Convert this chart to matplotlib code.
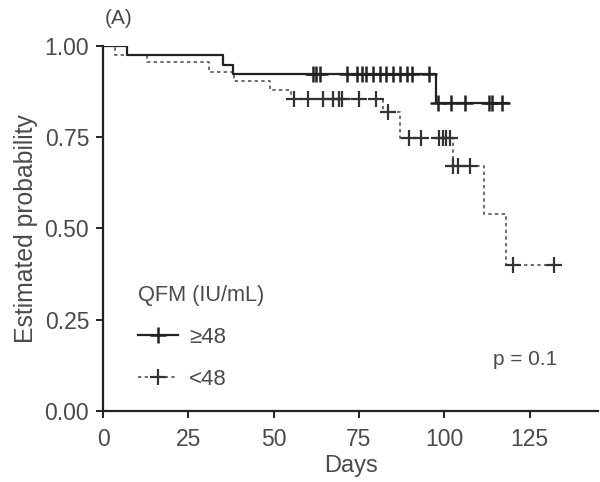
import numpy as np
import matplotlib
matplotlib.use("Agg")
import matplotlib.pyplot as plt
from matplotlib.lines import Line2D

plt.rcParams["font.family"] = ["Liberation Sans", "DejaVu Sans"]

# Kaplan-Meier steps, QFM >= 48
times_hi = [0, 7, 35, 38, 97.5, 118.5]
surv_hi = [1.0, 0.975, 0.947, 0.922, 0.845, 0.845]
censor_hi = [61.5, 62.5, 63.5, 71.5, 74.5, 76, 77, 79, 81, 83, 85, 87, 89, 90.5,
             95.5, 98, 102, 106, 113, 114, 117]

# Kaplan-Meier steps, QFM < 48
times_lo = [0, 3.5, 13, 31, 38.5, 49, 55, 82, 87, 102.5, 111.5, 118, 134]
surv_lo = [1.0, 0.975, 0.955, 0.93, 0.905, 0.88, 0.855, 0.82, 0.748, 0.672,
           0.54, 0.40, 0.40]
censor_lo = [56, 60, 64.5, 67.5, 69, 70, 75, 80, 83.5, 89.5, 93, 98.5, 99.5,
             100.5, 101.5, 102.5, 104, 107.5, 120, 132]

TEXT = "#4a4a4a"


def surv_at(times, surv, t):
    idx = np.searchsorted(times, t, side="right") - 1
    return np.array(surv)[idx]


fig = plt.figure(figsize=(6, 4.82), dpi=100)
ax = fig.add_axes([0.1717, 0.1473, 0.825, 0.7573])

ax.step(times_lo, surv_lo, where="post", color="#555555", lw=1.2,
        ls=(0, (2, 2)))
ax.plot(censor_lo, surv_at(times_lo, surv_lo, censor_lo), ls="none",
        marker="+", ms=11, mew=1.6, color="#333333")

ax.step(times_hi, surv_hi, where="post", color="#222222", lw=1.6)
ax.plot(censor_hi, surv_at(times_hi, surv_hi, censor_hi), ls="none",
        marker="+", ms=11, mew=1.8, color="#222222")

ax.set_xlim(0, 145)
ax.set_ylim(0, 1.0)
ax.set_xticks([0, 25, 50, 75, 100, 125])
ax.set_yticks([0, 0.25, 0.5, 0.75, 1.0])
ax.set_yticklabels(["0.00", "0.25", "0.50", "0.75", "1.00"])

for side in ["top", "right"]:
    ax.spines[side].set_visible(False)
for side in ["left", "bottom"]:
    ax.spines[side].set_linewidth(1.6)
    ax.spines[side].set_color("#222222")
ax.spines["left"].set_bounds(0, 1.0)

ax.tick_params(direction="out", length=5, width=1.4, colors="#222222",
               labelsize=16.5, labelcolor=TEXT)
ax.tick_params(axis="x", pad=7)
ax.tick_params(axis="y", pad=5)

ax.set_xlabel("Days", fontsize=17, color=TEXT, labelpad=3)
ax.set_ylabel("Estimated probability", fontsize=17.8, color=TEXT, labelpad=5)

handles = [
    Line2D([], [], color="#222222", lw=1.6, marker="+", ms=11, mew=1.8),
    Line2D([], [], color="#555555", lw=1.2, ls=(0, (2, 2)), marker="+",
           ms=11, mew=1.6, markeredgecolor="#333333"),
]
leg = ax.legend(handles, ["\u226548", "<48"], title="QFM (IU/mL)",
                loc="upper left", bbox_to_anchor=(0.03, 0.40), frameon=False,
                fontsize=16, title_fontsize=15.7, handlelength=1.8,
                handletextpad=0.5, labelspacing=0.95, alignment="left")
for t in leg.get_texts():
    t.set_color(TEXT)
leg.get_title().set_color(TEXT)

ax.text(0.853, 0.14, "p = 0.1", transform=ax.transAxes, fontsize=15,
        color=TEXT, ha="center", va="center")
fig.text(0.175, 0.962, "(A)", fontsize=15, color=TEXT, ha="left",
         va="center")

fig.savefig("out.png", dpi=100)
